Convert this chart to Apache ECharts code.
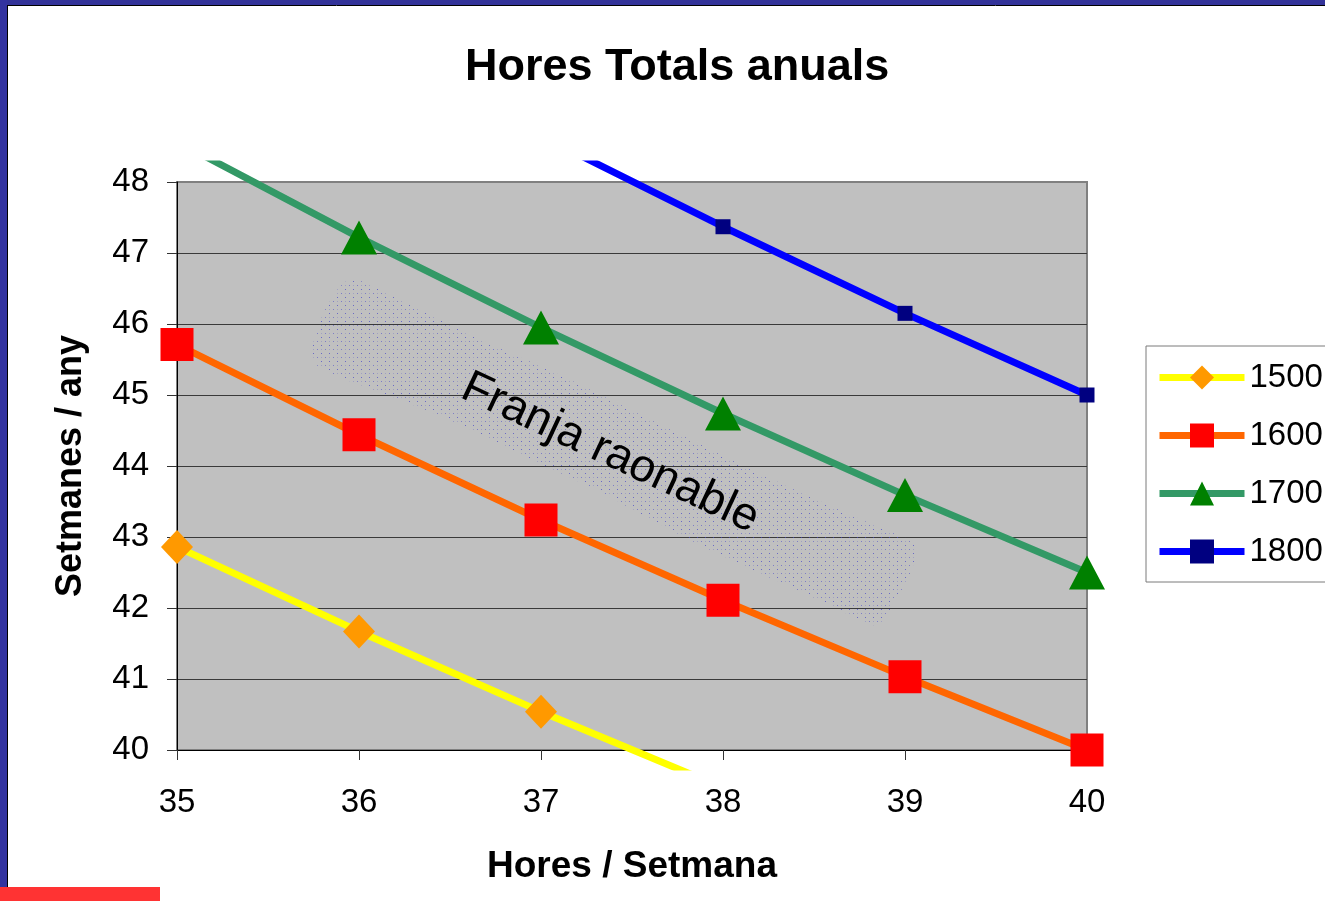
<!DOCTYPE html>
<html>
<head>
<meta charset="utf-8">
<script src="https://cdn.jsdelivr.net/npm/echarts@6/dist/echarts.min.js"></script>
<style>
  html, body { margin: 0; padding: 0; background: #fff; }
  #chart { width: 1325px; height: 901px; }
</style>
</head>
<body>
<div id="chart"></div>
<script>
// ---- data ----
const hoursPerWeek = [35, 36, 37, 38, 39, 40];
const seriesNames = ['1500', '1600', '1700', '1800'];
const weeks1500 = [42.86, 41.67, 40.54, 39.47, null, null];
const weeks1600 = [45.71, 44.44, 43.24, 42.11, 41.03, 40.00];
const weeks1700 = [48.57, 47.22, 45.95, 44.74, 43.59, 42.50];
const weeks1800 = [null, 50.00, 48.65, 47.37, 46.15, 45.00];
const xTicks = [35, 36, 37, 38, 39, 40];
const yTicks = [40, 41, 42, 43, 44, 45, 46, 47, 48];
// outline of the "reasonable band" annotation, in data units [hours/week, weeks/year]
const bandOutline = [
  [35.951, 46.620], [36.225, 46.338], [36.610, 45.845], [37.104, 45.282],
  [37.527, 44.746], [38.313, 43.761], [38.863, 43.127], [39.055, 42.887],
  [39.027, 42.465], [38.945, 42.113], [38.863, 41.761], [38.753, 41.831],
  [38.588, 42.042], [37.874, 42.887], [37.324, 43.634], [36.956, 44.085],
  [36.500, 44.648], [36.115, 45.042], [35.786, 45.380], [35.742, 45.634],
  [35.813, 46.197]
];
const bandLabelText = 'Franja raonable';

// ---- layout ----
const FONT = '"Liberation Sans", Arial, Helvetica, sans-serif';
const plot = { left: 177, top: 182, right: 1087, bottom: 750 };
const W = 1325, H = 901;
const xMin = xTicks[0], xMax = xTicks[xTicks.length - 1];
const yMin = yTicks[0], yMax = yTicks[yTicks.length - 1];
const pxPerY = (plot.bottom - plot.top) / (yMax - yMin);
const clipExtTop = 18, clipExtBottom = 17;
const labelAnchor = [37.38, 44.18];

function pairs(vals) { return hoursPerWeek.map((h, i) => [h, vals[i]]); }

// sparse dotted pattern for the band
const pat = document.createElement('canvas');
pat.width = 8; pat.height = 8;
const pc = pat.getContext('2d');
pc.fillStyle = 'rgba(70,70,200,0.7)';
pc.fillRect(1, 1, 1, 1);
pc.fillStyle = 'rgba(70,70,200,0.55)';
pc.fillRect(5, 5, 1, 1);
pc.fillStyle = 'rgba(90,90,200,0.3)';
pc.fillRect(1, 5, 1, 1);

const chart = echarts.init(document.getElementById('chart'), null, { renderer: 'canvas' });

const lineDefs = [
  { name: seriesNames[0], vals: weeks1500, line: '#FFFF00', sym: 'diamond', symColor: '#FF9900', size: [32, 34] },
  { name: seriesNames[1], vals: weeks1600, line: '#FF6600', sym: 'rect', symColor: '#FF0000', size: 33 },
  { name: seriesNames[2], vals: weeks1700, line: '#339966', sym: 'triangle', symColor: '#008000', size: [36, 34] },
  { name: seriesNames[3], vals: weeks1800, line: '#0000FF', sym: 'rect', symColor: '#000080', size: 15 }
];

const option = {
  animation: false,
  backgroundColor: '#ffffff',
  title: {
    text: 'Hores Totals anuals',
    left: 460, top: 40,
    textStyle: { fontFamily: FONT, fontSize: 45, fontWeight: 'bold', color: '#000' }
  },
  legend: {
    orient: 'vertical',
    left: 1146, top: 346,
    padding: [15, 40, 14, 10],
    itemWidth: 85, itemHeight: 30, itemGap: 25,
    backgroundColor: '#ffffff',
    borderColor: '#7a7a7a', borderWidth: 1,
    lineStyle: { width: 7 },
    textStyle: { fontFamily: FONT, fontSize: 33, color: '#000', lineHeight: 30 },
    data: seriesNames
  },
  grid: [
    {
      left: plot.left, top: plot.top, right: W - plot.right, bottom: H - plot.bottom,
      show: true, backgroundColor: '#C0C0C0', borderColor: '#808080', borderWidth: 2,
      containLabel: false, outerBoundsMode: 'none'
    },
    {
      left: plot.left, top: plot.top - clipExtTop, right: W - plot.right, bottom: H - plot.bottom - clipExtBottom,
      show: false, containLabel: false, outerBoundsMode: 'none'
    }
  ],
  xAxis: [
    {
      gridIndex: 0, type: 'value', min: xMin, max: xMax, interval: 1,
      name: 'Hores / Setmana', nameLocation: 'middle', nameGap: 98,
      nameTextStyle: { fontFamily: FONT, fontSize: 37, fontWeight: 'bold', color: '#000' },
      axisLine: { show: true, onZero: false, lineStyle: { color: '#000', width: 1 } },
      axisTick: { show: true, length: 10, lineStyle: { color: '#333', width: 1 } },
      axisLabel: { fontFamily: FONT, fontSize: 33, color: '#000', margin: 36 },
      splitLine: { show: false }
    },
    {
      gridIndex: 1, type: 'value', min: xMin, max: xMax, show: false
    }
  ],
  yAxis: [
    {
      gridIndex: 0, type: 'value', min: yMin, max: yMax, interval: 1,
      name: 'Setmanes / any', nameLocation: 'middle', nameGap: 88, nameRotate: 90,
      nameTextStyle: { fontFamily: FONT, fontSize: 36, fontWeight: 'bold', color: '#000' },
      axisLine: { show: true, onZero: false, lineStyle: { color: '#000', width: 1 } },
      axisTick: { show: true, length: 10, lineStyle: { color: '#333', width: 1 } },
      axisLabel: { fontFamily: FONT, fontSize: 33, color: '#000', margin: 28 },
      splitLine: { show: true, showMinLine: false, showMaxLine: false, lineStyle: { color: '#3a3a3a', width: 1 } }
    },
    {
      gridIndex: 1, type: 'value',
      min: yMin - clipExtBottom / pxPerY, max: yMax + clipExtTop / pxPerY,
      show: false
    }
  ],
  series: [
    {
      type: 'custom',
      name: 'band',
      xAxisIndex: 0, yAxisIndex: 0,
      z: 1, silent: true,
      data: [[0]],
      renderItem: function (params, api) {
        const pts = bandOutline.map(p => api.coord(p));
        const lp = api.coord(labelAnchor);
        return {
          type: 'group',
          children: [
            {
              type: 'polygon',
              shape: { points: pts, smooth: 0.3 },
              style: { fill: { image: pat, repeat: 'repeat' }, stroke: null }
            },
            {
              type: 'text',
              x: lp[0], y: lp[1],
              rotation: -25 * Math.PI / 180,
              style: {
                text: bandLabelText, fontFamily: FONT, fontSize: 46, fill: '#000',
                align: 'center', verticalAlign: 'middle'
              }
            }
          ]
        };
      }
    }
  ].concat(lineDefs.map(d => ({
    type: 'line',
    name: d.name,
    xAxisIndex: 1, yAxisIndex: 1,
    data: pairs(d.vals),
    clip: true,
    z: 3,
    symbol: d.sym,
    symbolSize: d.size,
    showAllSymbol: true,
    connectNulls: false,
    lineStyle: { color: d.line, width: 7 },
    itemStyle: { color: d.symColor, borderWidth: 0 },
    emphasis: { disabled: true }
  }))),
  graphic: [
    { type: 'rect', shape: { x: 0, y: 0, width: W, height: 5 }, style: { fill: '#333399' }, z: 100 },
    { type: 'rect', shape: { x: 0, y: 0, width: 7, height: 887 }, style: { fill: '#3333A0' }, z: 100 },
    { type: 'line', shape: { x1: 7.5, y1: 5, x2: 7.5, y2: 887 }, style: { stroke: '#000', lineWidth: 1 }, z: 100 },
    { type: 'line', shape: { x1: 7, y1: 5.5, x2: W, y2: 5.5 }, style: { stroke: '#000', lineWidth: 1 }, z: 100 },
    { type: 'rect', shape: { x: 0, y: 887, width: 160, height: 14 }, style: { fill: '#FF3333' }, z: 100 }
  ]
};

chart.setOption(option);
</script>
</body>
</html>
